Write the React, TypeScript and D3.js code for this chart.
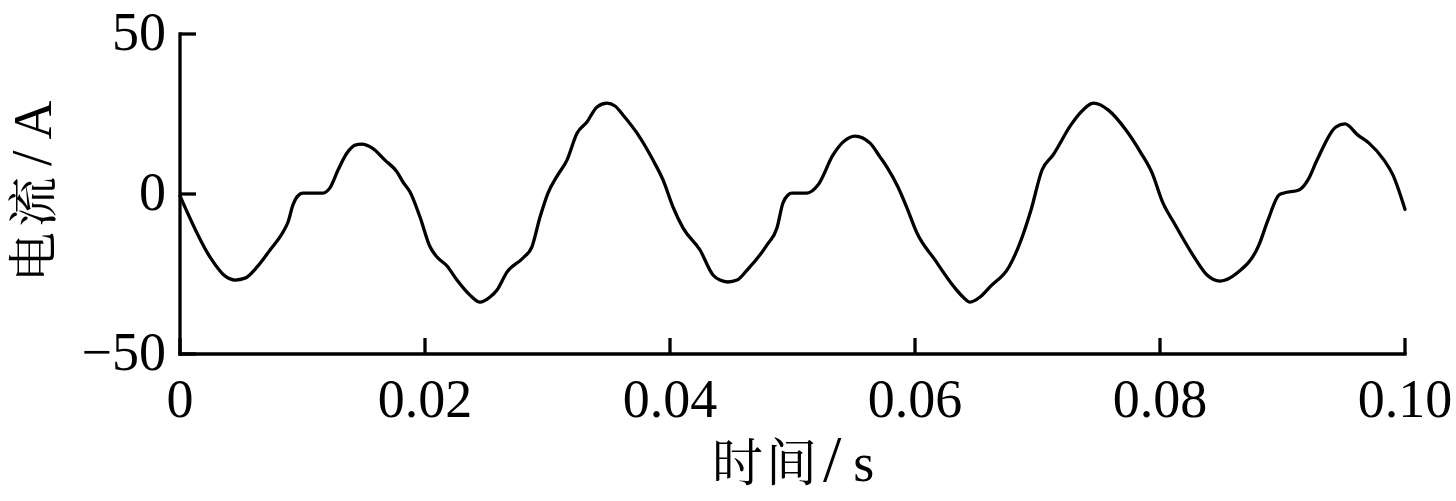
import React from "react";
import * as d3 from "d3";

// time in ms, current in A
const timeMs = [0, 2.45, 3.67, 4.49, 5.31, 6.29, 7.35, 8.41, 8.82, 9.22, 9.55, 10.04, 11.67, 12.24, 12.9, 13.63, 14.29, 14.86, 15.67, 16.73, 17.71, 18.2, 18.78, 19.59, 20.41, 20.98, 21.8, 22.61, 23.67, 24.49, 25.31, 25.88, 26.69, 28.0, 28.73, 29.39, 30.04, 30.78, 31.59, 32.41, 33.22, 34.04, 34.86, 35.51, 36.16, 37.31, 38.61, 39.43, 40.24, 41.06, 42.45, 43.51, 44.08, 44.73, 45.47, 46.29, 47.92, 48.73, 49.22, 49.63, 49.96, 51.18, 52.08, 53.31, 54.12, 55.1, 56.33, 57.14, 57.71, 58.61, 59.35, 60.16, 61.63, 63.18, 63.92, 64.49, 65.31, 66.12, 67.67, 68.57, 69.47, 70.37, 71.27, 72.73, 73.47, 74.61, 75.76, 77.22, 78.45, 79.35, 80.24, 81.14, 82.04, 82.94, 83.84, 84.9, 86.29, 88.08, 88.82, 89.71, 90.12, 91.35, 92.08, 92.82, 94.37, 95.1, 96.16, 97.06, 98.29, 99.02, 100];
const currentA = [-0.6, -19.7, -25.6, -26.9, -26.3, -22.8, -17.5, -11.9, -8.75, -3.4, -0.9, 0.3, 0.3, 1.9, 7.5, 12.8, 15.3, 15.6, 14.4, 10.6, 6.9, 3.75, 0.6, -7.2, -16.5, -19.7, -22.5, -26.9, -31.6, -33.8, -32.2, -30, -24.4, -20, -16.5, -7.2, 0.3, 5.6, 10.6, 19, 22.5, 27.2, 28.4, 27.5, 24.7, 19, 10.6, 4.4, -4, -10.6, -17.5, -25.3, -26.9, -27.5, -26.9, -23.8, -15.9, -10.6, -2.8, -0.3, 0.3, 0.3, 2.8, 12.2, 16.2, 18.1, 15.9, 11.6, 8.4, 2.2, -4.4, -12.2, -20.6, -29, -32.2, -33.8, -32.2, -29, -22.8, -15.3, -5, 7.5, 12.2, 21.6, 25.3, 28.4, 26.3, 20, 12.8, 6.6, -2.8, -9, -15, -20.6, -25.3, -27.2, -24.7, -15.9, -8.1, -0.3, 0.3, 1.25, 4.4, 10.6, 21, 21.9, 18.4, 15.9, 10.6, 5.9, -4.8];

const xTicks = [0, 0.02, 0.04, 0.06, 0.08, 0.1];
const xTickLabels = ["0", "0.02", "0.04", "0.06", "0.08", "0.10"];
const yTicks = [-50, 0, 50];
const yTickLabels = ["−50", "0", "50"];
const xTitleName = "时间";
const xTitleUnit = "s";
const yTitleName = "电流";
const yTitleUnit = "A";

const W = 1456;
const H = 501;
const serif = "'Liberation Serif', 'Times New Roman', 'Noto Serif CJK SC', 'Noto Sans CJK SC', serif";

export default function App() {
  React.useEffect(() => {
    document.body.style.margin = "0";
  }, []);

  const x = d3.scaleLinear().domain([0, 0.1]).range([180, 1405]);
  const y = d3.scaleLinear().domain([-50, 50]).range([354, 34]);

  const data = timeMs.map((t, i) => [t / 1000, currentA[i]] as [number, number]);
  const line = d3
    .line<[number, number]>()
    .x((d) => x(d[0]))
    .y((d) => y(d[1]))
    .curve(d3.curveMonotoneX);

  const tickLen = 16;
  const sw = 3.3;

  return (
    <svg width={W} height={H} style={{ display: "block", background: "#fff" }}>
      <path d={line(data) || ""} fill="none" stroke="#000" strokeWidth={sw} strokeLinejoin="round" strokeLinecap="round" />
      {/* axes */}
      <line x1={x(0)} x2={x(0)} y1={y(50)} y2={y(-50)} stroke="#000" strokeWidth={sw} strokeLinecap="square" />
      <line x1={x(0)} x2={x(0.1)} y1={y(-50)} y2={y(-50)} stroke="#000" strokeWidth={sw} strokeLinecap="square" />
      {yTicks.map((v, i) => (
        <g key={"y" + i}>
          <line x1={x(0)} x2={x(0) + tickLen} y1={y(v)} y2={y(v)} stroke="#000" strokeWidth={sw} />
          <text x={166} y={y(v) + 16} textAnchor="end" fontFamily={serif} fontSize={54} fill="#000">
            {yTickLabels[i]}
          </text>
        </g>
      ))}
      {xTicks.map((v, i) => (
        <g key={"x" + i}>
          <line x1={x(v)} x2={x(v)} y1={y(-50)} y2={y(-50) - tickLen} stroke="#000" strokeWidth={sw} />
          <text x={x(v)} y={417} textAnchor="middle" fontFamily={serif} fontSize={54} fill="#000">
            {xTickLabels[i]}
          </text>
        </g>
      ))}
      <text x={712} y={481} textAnchor="start" fontFamily={serif} fill="#000">
        <tspan fontSize={51} letterSpacing={3}>{xTitleName}</tspan>
        <tspan fontSize={66} dx={3}>/</tspan>
        <tspan fontSize={54} dx={12}>{xTitleUnit}</tspan>
      </text>
      <text transform={`translate(51, 282) rotate(-90)`} textAnchor="start" fontFamily={serif} fill="#000">
        <tspan fontSize={50} letterSpacing={5}>{yTitleName}</tspan>
        <tspan fontSize={56} dx={6}>/</tspan>
        <tspan fontSize={54} dx={11}>{yTitleUnit}</tspan>
      </text>
    </svg>
  );
}
